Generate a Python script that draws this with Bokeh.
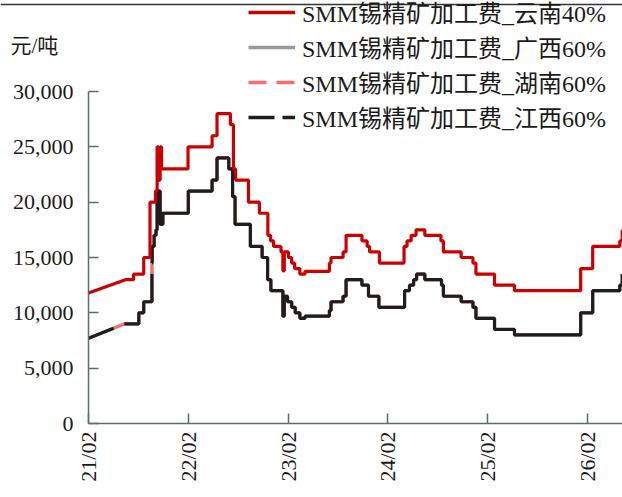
import math
import numpy as np
import pandas as pd
from bokeh.plotting import figure
from bokeh.models import (Range1d, FixedTicker, NumeralTickFormatter, DatetimeTickFormatter,
                          Legend, LegendItem, Label, Span)
from bokeh.embed import file_html
from bokeh.resources import INLINE

# ---------------- data (level changes; first link is a straight line) ----------------
series_names = ["SMM锡精矿加工费_云南40%", "SMM锡精矿加工费_广西60%",
                "SMM锡精矿加工费_湖南60%", "SMM锡精矿加工费_江西60%"]

yunnan_dates = ["2021-02-01", "2021-06-16", "2021-07-16", "2021-08-22", "2021-09-14", "2021-10-04",
                "2021-10-10", "2021-10-15", "2021-10-21", "2021-10-26", "2022-01-31", "2022-04-29",
                "2022-05-17", "2022-07-05", "2022-07-16", "2022-07-24", "2022-09-09", "2022-10-19",
                "2022-11-19", "2022-11-29", "2022-12-10", "2023-01-06", "2023-01-13", "2023-01-18",
                "2023-02-02", "2023-02-14", "2023-02-25", "2023-03-16", "2023-04-04", "2023-07-02",
                "2023-07-08", "2023-08-21", "2023-09-01", "2023-10-29", "2023-11-17", "2023-11-26",
                "2024-01-01", "2024-03-31", "2024-04-11", "2024-04-26", "2024-05-14", "2024-06-15",
                "2024-08-13", "2024-08-22", "2024-10-26", "2024-12-08", "2024-12-19", "2025-02-25",
                "2025-05-09", "2026-01-06", "2026-02-19", "2026-05-29", "2026-06-07"]
yunnan_values = [11800, 13000, 13500, 15000, 20000, 21000,
                 25000, 22000, 25000, 23000, 25000, 26000,
                 28000, 27000, 23000, 22000, 20000, 19000,
                 17000, 16500, 16000, 15500, 13800, 15500,
                 15000, 14500, 14000, 13500, 13750, 14500,
                 15000, 15500, 17000, 16500, 16000, 15500,
                 14500, 16000, 16500, 17000, 17500, 17000,
                 16500, 15500, 15000, 14500, 13500, 12500,
                 12000, 14000, 16000, 16500, 17500]

jiangxi_dates = ["2021-02-01", "2021-05-04", "2021-05-04", "2021-06-12", "2021-08-04", "2021-08-22",
                 "2021-09-21", "2021-09-21", "2021-09-21", "2021-09-22", "2021-09-29", "2021-10-06",
                 "2021-10-10", "2021-10-21", "2021-10-24", "2021-10-28", "2021-10-31", "2022-02-01",
                 "2022-04-29", "2022-05-17", "2022-06-29", "2022-07-13", "2022-07-22", "2022-09-16",
                 "2022-10-29", "2022-11-18", "2022-11-30", "2023-01-13", "2023-01-18", "2023-01-30",
                 "2023-02-14", "2023-02-27", "2023-03-16", "2023-04-04", "2023-07-02", "2023-07-08",
                 "2023-08-21", "2023-09-01", "2023-10-29", "2023-11-22", "2023-12-30", "2024-04-02",
                 "2024-04-20", "2024-05-05", "2024-05-16", "2024-06-15", "2024-08-15", "2024-08-22",
                 "2024-10-26", "2024-12-08", "2024-12-19", "2025-02-25", "2025-05-09", "2026-01-06",
                 "2026-02-19", "2026-05-29", "2026-06-07"]
jiangxi_values = [7700, 8600, None, 9000, 10000, 11000,
                  13500, None, 14500, 16000, 17000, 17500,
                  21000, 18000, 19000, 18000, 19000, 21000,
                  22000, 24000, 23000, 20500, 18000, 16000,
                  15000, 13000, 12000, 9700, 11500, 11000,
                  10500, 10000, 9500, 9700, 10200, 11000,
                  11500, 13000, 12500, 11500, 10500, 12000,
                  12500, 13000, 13500, 13000, 12500, 11500,
                  11000, 10500, 9500, 8500, 8000, 10000,
                  12000, 12500, 13500]

hunan_dates = ["2021-02-01", "2021-06-12", "2021-08-04", "2021-08-22", "2021-09-21", "2021-09-21",
               "2021-09-22", "2021-09-29", "2021-10-06", "2021-10-10", "2021-10-21", "2021-10-24",
               "2021-10-28", "2021-10-31", "2022-02-01", "2022-04-29", "2022-05-17", "2022-06-29",
               "2022-07-13", "2022-07-22", "2022-09-16", "2022-10-29", "2022-11-18", "2022-11-30",
               "2023-01-13", "2023-01-18", "2023-01-30", "2023-02-14", "2023-02-27", "2023-03-16",
               "2023-04-04", "2023-07-02", "2023-07-08", "2023-08-21", "2023-09-01", "2023-10-29",
               "2023-11-22", "2023-12-30", "2024-04-02", "2024-04-20", "2024-05-05", "2024-05-16",
               "2024-06-15", "2024-08-15", "2024-08-22", "2024-10-26", "2024-12-08", "2024-12-19",
               "2025-02-25", "2025-05-09", "2026-01-06", "2026-02-19", "2026-05-29", "2026-06-07"]
hunan_values = [7700, 9000, 10000, 11000, 13500, 14500,
                16000, 17000, 17500, 21000, 18000, 19000,
                18000, 19000, 21000, 22000, 24000, 23000,
                20500, 18000, 16000, 15000, 13000, 12000,
                9700, 11500, 11000, 10500, 10000, 9500,
                9700, 10200, 11000, 11500, 13000, 12500,
                11500, 10500, 12000, 12500, 13000, 13500,
                13000, 12500, 11500, 11000, 10500, 9500,
                8500, 8000, 10000, 12000, 12500, 13500]

# 广西 lies entirely under the other 60% lines
guangxi_dates = list(hunan_dates)
guangxi_values = list(hunan_values)

y_ticks = [0, 5000, 10000, 15000, 20000, 25000, 30000]
x_tick_dates = ["2021-02-01", "2022-02-01", "2023-02-01", "2024-02-01", "2025-02-01", "2026-02-01"]
x_tick_labels = ["21/02", "22/02", "23/02", "24/02", "25/02", "26/02"]
unit_label = "元/吨"

# ---------------- layout / styling ----------------
FONT = "'Liberation Serif', 'Noto Sans CJK SC', serif"
AXIS = "#5a6e6e"
TXT = "#1a1a1a"
RED = "#cc0000"
GREY = "#999999"
PINK = "#ff6b6b"
BLACK = "#1e1e1e"

W, H = 622, 497
AX_X, AX_TOP, AX_BOT = 88, 91, 423          # pixel positions of the axes box
X_START, X_END = pd.Timestamp("2021-02-01"), pd.Timestamp("2026-06-08")
Y_MAX = 30000

px_per_day = (W - AX_X) / (X_END - X_START).days
val_per_px = Y_MAX / (AX_BOT - AX_TOP)
x_lo = X_START - pd.Timedelta(days=AX_X / px_per_day)
y_lo = -(H - AX_BOT) * val_per_px
y_hi = Y_MAX + AX_TOP * val_per_px


def ms(t):
    return pd.Timestamp(t).value // 10**6


def step_path(dates, values):
    xs, ys = [], []
    prev = None
    for i, (d, v) in enumerate(zip(dates, values)):
        t = pd.Timestamp(d)
        if v is None:
            xs.append(t); ys.append(np.nan); prev = None
            continue
        if prev is not None and i != 1:
            xs.append(t); ys.append(prev)
        xs.append(t); ys.append(v)
        prev = v
    return xs, ys


p = figure(width=W, height=H, x_axis_type="datetime", title=None,
           x_range=Range1d(x_lo, X_END), y_range=Range1d(y_lo, y_hi),
           output_backend="svg", toolbar_location=None,
           min_border_left=0, min_border_right=0, min_border_top=0, min_border_bottom=0)
p.xgrid.visible = False
p.ygrid.visible = False
p.outline_line_color = None
p.background_fill_color = "white"

for ax in (p.xaxis[0], p.yaxis[0]):
    ax.axis_line_color = AXIS
    ax.axis_line_width = 1.5
    ax.major_tick_line_color = AXIS
    ax.major_tick_line_width = 1.5
    ax.major_tick_in = 10
    ax.major_tick_out = 0
    ax.minor_tick_line_color = None
    ax.major_label_text_font = FONT
    ax.major_label_text_font_size = "22px"
    ax.major_label_text_color = TXT

yax = p.yaxis[0]
yax.ticker = FixedTicker(ticks=y_ticks)
yax.formatter = NumeralTickFormatter(format="0,0")
yax.major_label_standoff = 15
yax.fixed_location = ms(X_START)
yax.bounds = (0, Y_MAX)

xax = p.xaxis[0]
xax.ticker = FixedTicker(ticks=[ms(d) for d in x_tick_dates])
fmt = "%y/%m"
xax.formatter = DatetimeTickFormatter(
    microseconds=fmt, milliseconds=fmt, seconds=fmt, minsec=fmt, minutes=fmt,
    hourmin=fmt, hours=fmt, days=fmt, months=fmt, years=fmt, context=None)
xax.major_label_orientation = math.pi / 2
xax.major_label_standoff = 8
xax.fixed_location = 0
xax.bounds = (ms(X_START), ms(X_END))

# thin rule across the very top
p.add_layout(Span(location=y_hi - 4 * val_per_px, dimension="width",
                  line_color="#333333", line_width=1.5))

# data lines
gx, gy = step_path(guangxi_dates, guangxi_values)
p.line(gx, gy, line_color=GREY, line_width=3)
hx, hy = step_path(hunan_dates, hunan_values)
p.line(hx, hy, line_color=PINK, line_width=3)
jx, jy = step_path(jiangxi_dates, jiangxi_values)
p.line(jx, jy, line_color=BLACK, line_width=3.2)
yx, yy = step_path(yunnan_dates, yunnan_values)
p.line(yx, yy, line_color=RED, line_width=3.2)

# legend glyph renderers (no visible data)
t0 = [X_START]
nan_y = [np.nan]
lr = p.line(t0, nan_y, line_color=RED, line_width=3.5)
lg = p.line(t0, nan_y, line_color=GREY, line_width=3.5)
lp = p.line(t0, nan_y, line_color=PINK, line_width=3.5, line_dash="18 10")
lb = p.line(t0, nan_y, line_color=BLACK, line_width=3.5, line_dash="26 8")

legend = Legend(items=[LegendItem(label=series_names[0], renderers=[lr]),
                       LegendItem(label=series_names[1], renderers=[lg]),
                       LegendItem(label=series_names[2], renderers=[lp]),
                       LegendItem(label=series_names[3], renderers=[lb])],
                location=(248, H - 134))
legend.background_fill_alpha = 0
legend.border_line_color = None
legend.padding = 0
legend.margin = 0
legend.spacing = 0
legend.label_standoff = 7
legend.glyph_width = 47
legend.glyph_height = 32
legend.label_height = 32
legend.label_text_font = FONT
legend.label_text_font_size = "24px"
legend.label_text_color = TXT
legend.label_text_baseline = "middle"
p.add_layout(legend)

p.add_layout(Label(x=10, y=H - 45, x_units="screen", y_units="screen", text=unit_label,
                   text_font=FONT, text_font_size="21px", text_color=TXT,
                   text_baseline="middle"))

open("out.html", "w").write(file_html(p, INLINE))
